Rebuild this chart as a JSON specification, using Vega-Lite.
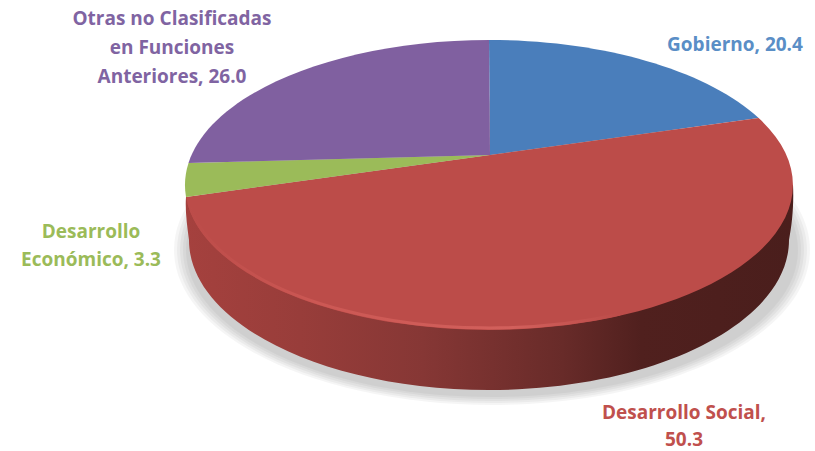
{
  "$schema": "https://vega.github.io/schema/vega-lite/v6.json",
  "width": 815,
  "height": 451,
  "padding": 0,
  "autosize": {"type": "fit", "contains": "padding"},
  "background": "white",
  "view": {"stroke": null},
  "resolve": {"scale": {"shape": "independent"}},
  "data": {"values": [
    {"categoria": "Gobierno", "valor": 20.4, "etiqueta": "Gobierno, 20.4"},
    {"categoria": "Desarrollo Social", "valor": 50.3, "etiqueta": "Desarrollo Social,\n50.3"},
    {"categoria": "Desarrollo Económico", "valor": 3.3, "etiqueta": "Desarrollo\nEconómico,  3.3"},
    {"categoria": "Otras no Clasificadas en Funciones Anteriores", "valor": 26.0, "etiqueta": "Otras no Clasificadas\nen Funciones\nAnteriores, 26.0"}
  ]},
  "encoding": {
    "x": {"datum": 0, "type": "quantitative", "axis": null, "scale": {"domain": [-490, 325], "nice": false, "zero": false}},
    "y": {"datum": 0, "type": "quantitative", "axis": null, "scale": {"domain": [-155, 296], "reverse": true, "nice": false, "zero": false}}
  },
  "layer": [
    {
      "data": {"values": [{"anillo": "a"}, {"anillo": "b"}, {"anillo": "c"}, {"anillo": "d"}, {"anillo": "e"}]},
      "mark": {"type": "point", "filled": true, "size": 4, "opacity": 0.04, "strokeWidth": 0, "color": "#000000"},
      "encoding": {"shape": {"field": "anillo", "type": "nominal", "legend": null, "scale": {
        "domain": ["a", "b", "c", "d", "e"],
        "range": [
          "M-316,95 A318,155 0 1 1 320,95 A318,155 0 1 1 -316,95 Z",
          "M-313,95 A315,153 0 1 1 317,95 A315,153 0 1 1 -313,95 Z",
          "M-310,95 A312,151 0 1 1 314,95 A312,151 0 1 1 -310,95 Z",
          "M-307,95 A309,149 0 1 1 311,95 A309,149 0 1 1 -307,95 Z",
          "M-304,95 A306,147 0 1 1 308,95 A306,147 0 1 1 -304,95 Z"
        ]}}}
    },
    {
      "transform": [{"filter": "datum.categoria === 'Desarrollo Social'"}],
      "mark": {"type": "point", "filled": true, "size": 4, "opacity": 1, "strokeWidth": 0,
        "fill": {"gradient": "linear", "x1": 0, "y1": 0, "x2": 1, "y2": 0,
          "stops": [
            {"offset": 0, "color": "#a5413e"},
            {"offset": 0.19, "color": "#983d3a"},
            {"offset": 0.39, "color": "#863735"},
            {"offset": 0.62, "color": "#682b29"},
            {"offset": 0.75, "color": "#50201e"},
            {"offset": 1, "color": "#4a1e1c"}]}},
      "encoding": {"shape": {"value": "M303,30 C304,50 302,70 299,85 A300,150 0 0 1 -301,85 C-303,70 -305,55 -304,42 Z"}}
    },
    {
      "mark": {"type": "point", "filled": true, "size": 4, "opacity": 1, "strokeWidth": 0},
      "encoding": {
        "shape": {"field": "categoria", "type": "nominal", "legend": null, "scale": {
          "domain": ["Gobierno", "Desarrollo Social", "Desarrollo Económico", "Otras no Clasificadas en Funciones Anteriores"],
          "range": [
            "M0,0 L-1,-115 A304,145 0 0 1 268.6,-37 Z",
            "M0,0 L268.6,-37 A304,145 0 1 1 -304,42 Z",
            "M0,0 L-304,42 A304,145 0 0 1 -301.5,8 Z",
            "M0,0 L-301.5,8 A304,145 0 0 1 -1,-115 Z"
          ]}},
        "fill": {"field": "categoria", "type": "nominal", "legend": null, "scale": {
          "domain": ["Gobierno", "Desarrollo Social", "Desarrollo Económico", "Otras no Clasificadas en Funciones Anteriores"],
          "range": ["#4a7ebb", "#bc4c49", "#9bbb59", "#8060a0"]}}
      }
    },
    {
      "transform": [{"filter": "datum.categoria === 'Desarrollo Social'"}],
      "mark": {"type": "point", "filled": false, "size": 4, "opacity": 1, "strokeWidth": 3,
        "stroke": {"gradient": "linear", "x1": 0, "y1": 0, "x2": 1, "y2": 0,
          "stops": [{"offset": 0, "color": "#bc4c49"}, {"offset": 0.3, "color": "#cc5854"}, {"offset": 0.75, "color": "#d2605c"}, {"offset": 1, "color": "#bc4c49"}]}},
      "encoding": {"shape": {"value": "M-301,48 A303,143 0 0 0 130,159"}}
    },
    {
      "transform": [{"filter": "datum.categoria === 'Gobierno'"}],
      "mark": {"type": "text", "font": "Open Sans", "fontWeight": "bold", "fontSize": 19, "align": "center", "baseline": "middle", "lineBreak": "\n", "lineHeight": 29, "color": "#5a8ec6"},
      "encoding": {"x": {"datum": 245}, "y": {"datum": -110}, "text": {"field": "etiqueta"}}
    },
    {
      "transform": [{"filter": "datum.categoria === 'Desarrollo Social'"}],
      "mark": {"type": "text", "font": "Open Sans", "fontWeight": "bold", "fontSize": 19, "align": "center", "baseline": "middle", "lineBreak": "\n", "lineHeight": 27, "color": "#c0504d"},
      "encoding": {"x": {"datum": 194}, "y": {"datum": 258}, "text": {"field": "etiqueta"}}
    },
    {
      "transform": [{"filter": "datum.categoria === 'Desarrollo Económico'"}],
      "mark": {"type": "text", "font": "Open Sans", "fontWeight": "bold", "fontSize": 19, "align": "center", "baseline": "middle", "lineBreak": "\n", "lineHeight": 28, "color": "#9bbb59"},
      "encoding": {"x": {"datum": -399}, "y": {"datum": 77}, "text": {"field": "etiqueta"}}
    },
    {
      "transform": [{"filter": "datum.categoria === 'Otras no Clasificadas en Funciones Anteriores'"}],
      "mark": {"type": "text", "font": "Open Sans", "fontWeight": "bold", "fontSize": 19, "align": "center", "baseline": "middle", "lineBreak": "\n", "lineHeight": 29, "color": "#8064a2"},
      "encoding": {"x": {"datum": -318}, "y": {"datum": -136}, "text": {"field": "etiqueta"}}
    }
  ]
}
